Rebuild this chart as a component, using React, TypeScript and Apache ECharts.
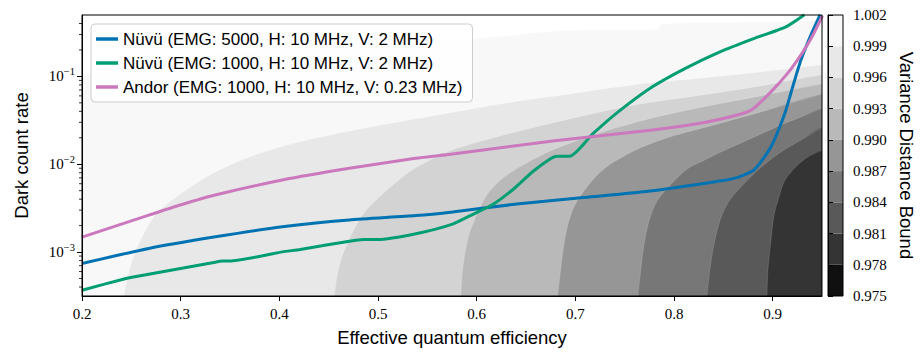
import React, { useEffect, useRef } from "react";
import * as echarts from "echarts";

// ---------- axes ----------
const xRange = [0.2, 0.95];
const yRange = [0.000316, 0.5];
const xTicks = [0.2, 0.3, 0.4, 0.5, 0.6, 0.7, 0.8, 0.9];
const yMajorTicks = [0.001, 0.01, 0.1];
const yMinorTicks = [
  0.0004, 0.0005, 0.0006, 0.0007, 0.0008, 0.0009,
  0.002, 0.003, 0.004, 0.005, 0.006, 0.007, 0.008, 0.009,
  0.02, 0.03, 0.04, 0.05, 0.06, 0.07, 0.08, 0.09,
  0.2, 0.3, 0.4,
];

// ---------- line series (efficiency, dark count rate) ----------
const seriesNames = [
  "Nüvü (EMG: 5000, H: 10 MHz, V: 2 MHz)",
  "Nüvü (EMG: 1000, H: 10 MHz, V: 2 MHz)",
  "Andor (EMG: 1000, H: 10 MHz, V: 0.23 MHz)",
];
const seriesColors = ["#0173b2", "#029e73", "#cc78bc"];

const nuvu5000: number[][] = [
  [0.2, 0.000741], [0.2677, 0.0011], [0.3353, 0.00149], [0.403, 0.00194],
  [0.4707, 0.00232], [0.5383, 0.0026], [0.5755, 0.00286], [0.6432, 0.00355],
  [0.7108, 0.0042], [0.7785, 0.00499], [0.8462, 0.00643], [0.8648, 0.00709],
  [0.8815, 0.0087], [0.8983, 0.01583], [0.9125, 0.0384], [0.9206, 0.0779],
  [0.9287, 0.1542], [0.9388, 0.2973], [0.948, 0.503],
];
const nuvu1000: number[][] = [
  [0.2, 0.000368], [0.2436, 0.000497], [0.2507, 0.000517], [0.335, 0.000767],
  [0.3421, 0.00079], [0.3492, 0.00079], [0.403, 0.001005], [0.4212, 0.00107],
  [0.471, 0.00133], [0.4852, 0.00139], [0.4994, 0.00139], [0.5397, 0.00163],
  [0.5755, 0.00208], [0.5968, 0.00271], [0.6171, 0.00352], [0.6374, 0.00522],
  [0.6577, 0.00837], [0.6811, 0.01231], [0.6943, 0.01231], [0.7176, 0.02211],
  [0.7447, 0.04043], [0.7785, 0.07651], [0.812, 0.1241], [0.8465, 0.1903],
  [0.88, 0.2677], [0.9135, 0.3667], [0.9322, 0.503],
];
const andor: number[][] = [
  [0.2, 0.00148], [0.2677, 0.00263], [0.2995, 0.00343], [0.335, 0.00446],
  [0.403, 0.00661], [0.471, 0.00898], [0.538, 0.01168], [0.5755, 0.01307],
  [0.677, 0.01839], [0.7785, 0.02455], [0.8333, 0.03029], [0.8678, 0.03736],
  [0.88, 0.0426], [0.8983, 0.06657], [0.9155, 0.1096], [0.9287, 0.1758],
  [0.9388, 0.2677], [0.9505, 0.49],
];

// ---------- filled contour boundaries (level -> boundary points) ----------
const contourLevels = [1.002, 0.999, 0.996, 0.993, 0.99, 0.987, 0.984, 0.981];
const c1002: number[][] = [
  [0.2, 0.1013], [0.2487, 0.1389], [0.3198, 0.1758], [0.4212, 0.2113],
  [0.5227, 0.241], [0.5989, 0.2677], [0.6872, 0.3303], [0.7836, 0.3434],
  [0.7876, 0.3917], [0.8678, 0.4127], [0.951, 0.4293],
];
const c0999: number[][] = [
  [0.2423, 0.0003], [0.2467, 0.000545], [0.2558, 0.00111], [0.2741, 0.00263],
  [0.2984, 0.00446], [0.335, 0.00815], [0.3756, 0.01273], [0.4202, 0.01791],
  [0.4872, 0.02587], [0.5552, 0.03545], [0.6242, 0.04859], [0.6872, 0.06152],
  [0.7663, 0.08213], [0.8292, 0.09614], [0.8881, 0.1125], [0.951, 0.1352],
];
const c0996: number[][] = [
  [0.4555, 0.0003], [0.4598, 0.000622], [0.4669, 0.00111], [0.4842, 0.00263],
  [0.5116, 0.00535], [0.538, 0.00905], [0.5755, 0.01452], [0.6242, 0.02097],
  [0.677, 0.0295], [0.7257, 0.03938], [0.7663, 0.04859], [0.8292, 0.06152],
  [0.8881, 0.0779], [0.951, 0.104],
];
const c0993: number[][] = [
  [0.5839, 0.0003], [0.5857, 0.000622], [0.5907, 0.00137], [0.5958, 0.00203],
  [0.609, 0.00423], [0.6242, 0.00661], [0.6435, 0.00929], [0.677, 0.01452],
  [0.7277, 0.02329], [0.7785, 0.03363], [0.8292, 0.0449], [0.8881, 0.05993],
  [0.951, 0.08213],
];
const c0990: number[][] = [
  [0.6821, 0.0003], [0.6851, 0.000622], [0.6892, 0.00137], [0.6953, 0.00263],
  [0.7044, 0.00423], [0.7277, 0.00859], [0.7612, 0.01452], [0.7957, 0.02042],
  [0.8292, 0.02587], [0.8881, 0.03938], [0.951, 0.06317],
];
const c0987: number[][] = [
  [0.7633, 0.0003], [0.7663, 0.000622], [0.7704, 0.00137], [0.7765, 0.00263],
  [0.7856, 0.00423], [0.812, 0.00859], [0.8292, 0.01088], [0.8475, 0.01377],
  [0.8678, 0.01745], [0.8881, 0.02211], [0.9084, 0.02799], [0.9287, 0.03453],
  [0.951, 0.04373],
];
const c0984: number[][] = [
  [0.8333, 0.0003], [0.8363, 0.000622], [0.8414, 0.00137], [0.8485, 0.00263],
  [0.8587, 0.00423], [0.8851, 0.00859], [0.9084, 0.01377], [0.9287, 0.01887],
  [0.951, 0.02655],
];
const c0981: number[][] = [
  [0.8942, 0.0003], [0.8952, 0.000622], [0.8983, 0.00137], [0.9013, 0.00263],
  [0.9064, 0.00423], [0.9114, 0.00627], [0.9186, 0.00815], [0.9287, 0.01059],
  [0.9388, 0.01273], [0.951, 0.01452],
];
const contourList = [c1002, c0999, c0996, c0993, c0990, c0987, c0984, c0981];

// ---------- colour bar ----------
const colorbarLevels = [0.975, 0.978, 0.981, 0.984, 0.987, 0.99, 0.993, 0.996, 0.999, 1.002];
const colorbarColors = [
  "#101010", "#343434", "#595959", "#777777", "#969696",
  "#b9b9b9", "#d3d3d3", "#e8e8e8", "#f8f8f8",
];

const SANS = "'Liberation Sans', Arial, Helvetica, sans-serif";
const SERIF = "'Liberation Serif', 'DejaVu Serif', serif";

function bandColor(level: number): string {
  const k = colorbarLevels.findIndex((l) => Math.abs(l - level) < 1e-9);
  return colorbarColors[k - 1];
}

export default function App() {
  const ref = useRef<HTMLDivElement>(null);

  useEffect(() => {
    document.body.style.margin = "0";
    if (!ref.current) return;
    const chart = echarts.init(ref.current, null, { renderer: "svg" });
    const X_OUT = 0.975;
    const X_IN = 0.15;
    const Y_OUT = 0.0002;

    const option: any = {
      animation: false,
      backgroundColor: "#ffffff",
      grid: [
        { left: 82, top: 15, width: 740, height: 281, show: true, borderColor: "#000", borderWidth: 1, backgroundColor: "transparent", z: 10 },
        { left: 828, top: 15, width: 15, height: 281, show: true, borderColor: "#000", borderWidth: 1, backgroundColor: "transparent", z: 10 },
      ],
      legend: {
        data: seriesNames,
        orient: "vertical",
        left: 91,
        top: 24,
        padding: [5, 10, 5, 5],
        itemGap: 4,
        itemWidth: 22,
        itemHeight: 3.5,
        icon: "rect",
        selectedMode: false,
        backgroundColor: "rgba(255,255,255,0.8)",
        borderColor: "#cccccc",
        borderWidth: 1,
        borderRadius: 4,
        textStyle: { fontFamily: SANS, fontSize: 17, color: "#000", lineHeight: 20 },
        z: 20,
      },
      xAxis: [
        {
          type: "value",
          gridIndex: 0,
          min: xRange[0],
          max: xRange[1],
          axisLine: { show: true, lineStyle: { color: "#000", width: 1 } },
          axisTick: { show: true, customValues: xTicks, length: 5, lineStyle: { color: "#000", width: 1 } },
          axisLabel: {
            customValues: xTicks,
            formatter: (v: number) => v.toFixed(1),
            fontFamily: SERIF,
            fontSize: 15,
            color: "#000",
            margin: 10,
          },
          splitLine: { show: false },
          name: "Effective quantum efficiency",
          nameLocation: "middle",
          nameGap: 32,
          nameTextStyle: { fontFamily: SANS, fontSize: 18.5, color: "#000" },
          z: 11,
        },
        { type: "value", gridIndex: 1, min: 0, max: 1, show: false },
      ],
      yAxis: [
        {
          type: "log",
          logBase: 10,
          gridIndex: 0,
          min: yRange[0],
          max: yRange[1],
          axisLine: { show: true, lineStyle: { color: "#000", width: 1 } },
          axisTick: { show: true, customValues: yMajorTicks, length: 5, lineStyle: { color: "#000", width: 1 } },
          axisLabel: {
            customValues: yMajorTicks,
            formatter: (v: number) => {
              const e = Math.round(Math.log10(v));
              return "{b|10}{s|" + (e < 0 ? "\u2212" : "") + Math.abs(e) + "}";
            },
            margin: 7,
            rich: {
              b: { fontFamily: SERIF, fontSize: 15, color: "#000", padding: [3, 0, 3, 0] },
              s: { fontFamily: SERIF, fontSize: 10.5, color: "#000", verticalAlign: "top" },
            },
          },
          splitLine: { show: false },
          name: "Dark count rate",
          nameLocation: "middle",
          nameRotate: 90,
          nameGap: 51,
          nameTextStyle: { fontFamily: SANS, fontSize: 18.5, color: "#000" },
          z: 11,
        },
        {
          type: "value",
          gridIndex: 1,
          min: colorbarLevels[0],
          max: colorbarLevels[colorbarLevels.length - 1],
          position: "right",
          axisLine: { show: true, lineStyle: { color: "#000", width: 1 } },
          axisTick: { show: true, customValues: colorbarLevels, length: 5, lineStyle: { color: "#000", width: 1 } },
          axisLabel: {
            customValues: colorbarLevels,
            formatter: (v: number) => v.toFixed(3),
            fontFamily: SERIF,
            fontSize: 15,
            color: "#000",
            margin: 10,
          },
          splitLine: { show: false },
          name: "Variance Distance Bound",
          nameLocation: "middle",
          nameRotate: -90,
          nameGap: 54,
          nameTextStyle: { fontFamily: SANS, fontSize: 18.5, color: "#000" },
          z: 11,
        },
      ],
      series: [
        {
          type: "custom",
          xAxisIndex: 0,
          yAxisIndex: 0,
          clip: true,
          silent: true,
          z: 1,
          data: contourList.map((c) => c[0]),
          renderItem: (params: any, api: any) => {
            const i = params.dataIndex;
            const pts = contourList[i];
            const first = pts[0];
            const last = pts[pts.length - 1];
            const startsOnLeft = first[1] > yRange[0];
            const closureData = startsOnLeft
              ? [[X_OUT, last[1]], [X_OUT, Y_OUT], [X_IN, Y_OUT], [X_IN, first[1]]]
              : [[X_OUT, last[1]], [X_OUT, Y_OUT], [first[0], Y_OUT]];
            const edge = pts.map((p) => api.coord(p));
            const closure = closureData.map((p) => api.coord(p));
            const fill = bandColor(contourLevels[i]);
            return {
              type: "group",
              children: [
                {
                  type: "polygon",
                  shape: { points: edge.concat(closure), smooth: 0.3 },
                  style: { fill, stroke: null },
                },
                {
                  type: "polyline",
                  shape: { points: edge, smooth: 0.3 },
                  style: { fill: null, stroke: "rgba(255,255,255,0.22)", lineWidth: 0.6 },
                },
              ],
            };
          },
        },
        {
          type: "custom",
          xAxisIndex: 1,
          yAxisIndex: 1,
          silent: true,
          z: 1,
          data: colorbarColors.map((_, i) => [0.5, (colorbarLevels[i] + colorbarLevels[i + 1]) / 2]),
          renderItem: (params: any, api: any) => {
            const i = params.dataIndex;
            const p0 = api.coord([0, colorbarLevels[i]]);
            const p1 = api.coord([1, colorbarLevels[i + 1]]);
            return {
              type: "rect",
              shape: { x: p0[0], y: p1[1], width: p1[0] - p0[0], height: p0[1] - p1[1] },
              style: { fill: colorbarColors[i] },
            };
          },
        },
        {
          type: "custom",
          xAxisIndex: 0,
          yAxisIndex: 0,
          clip: false,
          silent: true,
          z: 12,
          data: yMinorTicks.map((v) => [xRange[0], v]),
          renderItem: (params: any, api: any) => {
            const p = api.coord([api.value(0), api.value(1)]);
            return {
              type: "line",
              shape: { x1: p[0] - 3, y1: p[1], x2: p[0], y2: p[1] },
              style: { stroke: "#000", lineWidth: 0.8 },
            };
          },
        },
        ...[nuvu5000, nuvu1000, andor].map((d, k) => ({
          type: "line",
          name: seriesNames[k],
          xAxisIndex: 0,
          yAxisIndex: 0,
          data: d,
          showSymbol: false,
          symbol: "none",
          smooth: 0.2,
          clip: true,
          z: 5,
          lineStyle: { color: seriesColors[k], width: 3 },
          itemStyle: { color: seriesColors[k] },
        })),
      ],
    };

    chart.setOption(option);
    return () => chart.dispose();
  }, []);

  return <div ref={ref} style={{ width: 921, height: 354 }} />;
}
